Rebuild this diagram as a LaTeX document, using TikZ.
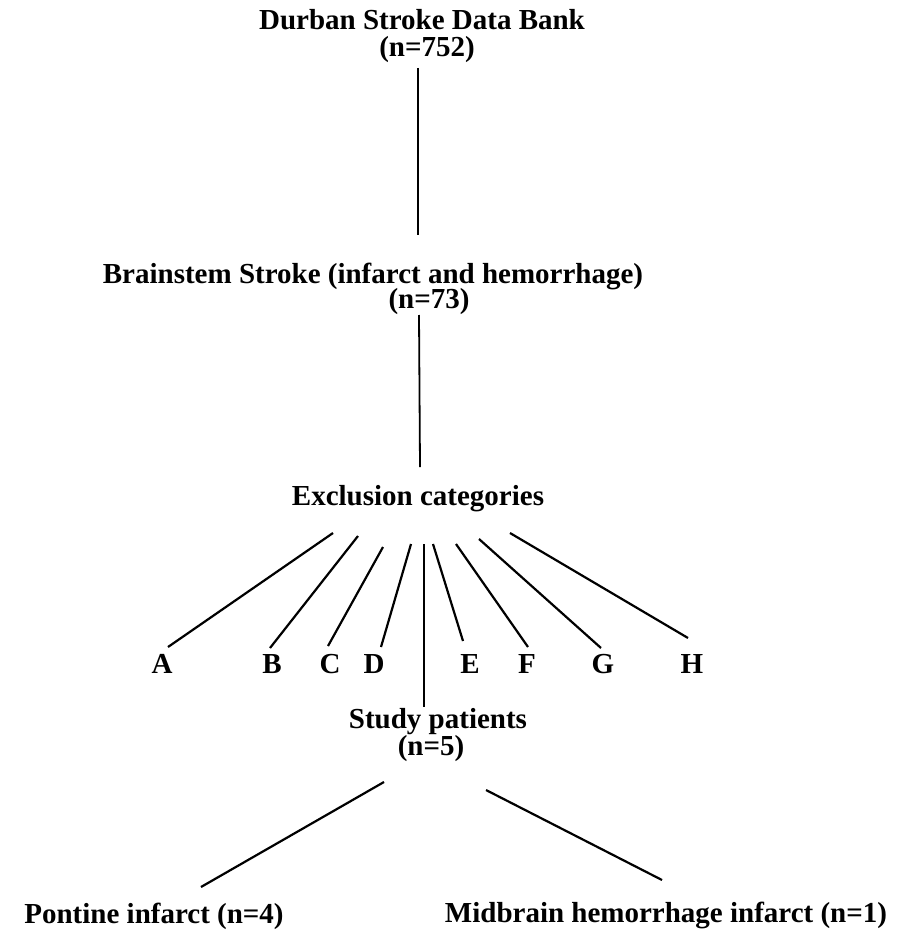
\documentclass[tikz,border=0pt]{standalone}
\usepackage{fontspec}
\setmainfont{Liberation Serif}
\begin{document}
\begin{tikzpicture}[x=1pt,y=1pt,
  lbl/.style={anchor=base, inner sep=0pt, font=\fontsize{29}{33}\selectfont\bfseries},
  conn/.style={line width=1.8pt},
  fan/.style={line width=2.2pt}]
\useasboundingbox (0,0) rectangle (898,-931);
% text nodes
\node[lbl] (t1) at (422,-30) {Durban Stroke Data Bank};
\node[lbl] (t1n) at (427,-57) {(n=752)};
\node[lbl] (t2) at (373,-283) {Brainstem Stroke (infarct and hemorrhage)};
\node[lbl] (t2n) at (429,-308) {(n=73)};
\node[lbl] (ex) at (418,-505) {Exclusion categories};
\node[lbl] (A) at (162,-673) {A};
\node[lbl] (B) at (272,-673) {B};
\node[lbl] (C) at (330,-673) {C};
\node[lbl] (D) at (374,-673) {D};
\node[lbl] (E) at (470,-673) {E};
\node[lbl] (F) at (527,-673) {F};
\node[lbl] (G) at (603,-673) {G};
\node[lbl] (H) at (692,-673) {H};
\node[lbl] (sp) at (438,-728) {Study patients};
\node[lbl] (spn) at (431,-755) {(n=5)};
\node[lbl] (pi) at (154,-923) {Pontine infarct (n=4)};
\node[lbl] (mb) at (666,-922) {Midbrain hemorrhage infarct (n=1)};
% connector end points
\coordinate (l1a) at (418,-68);  \coordinate (l1b) at (418,-235);
\coordinate (l2a) at (419,-315); \coordinate (l2b) at (420,-467);
\coordinate (vA) at (424,-544);  \coordinate (vB) at (424,-707);
\coordinate (Aa) at (333,-533); \coordinate (Ab) at (168,-647);
\coordinate (Ba) at (358,-536); \coordinate (Bb) at (270,-648);
\coordinate (Ca) at (383,-547); \coordinate (Cb) at (328,-646);
\coordinate (Da) at (411,-544); \coordinate (Db) at (381,-647);
\coordinate (Ea) at (433,-544); \coordinate (Eb) at (463,-641);
\coordinate (Fa) at (456,-544); \coordinate (Fb) at (528,-647);
\coordinate (Ga) at (479,-539); \coordinate (Gb) at (601,-648);
\coordinate (Ha) at (510,-533); \coordinate (Hb) at (688,-638);
\coordinate (pa) at (384,-782); \coordinate (pb) at (201,-887);
\coordinate (ma) at (486,-790); \coordinate (mb2) at (662,-880);
% connectors
\draw[conn] (l1a) -- (l1b);
\draw[conn] (l2a) -- (l2b);
\draw[conn] (vA) -- (vB);
\foreach \k in {A,B,C,D,E,F,G,H}{\draw[fan] (\k a) -- (\k b);}
\draw[fan] (pa) -- (pb);
\draw[fan] (ma) -- (mb2);
\end{tikzpicture}
\end{document}
